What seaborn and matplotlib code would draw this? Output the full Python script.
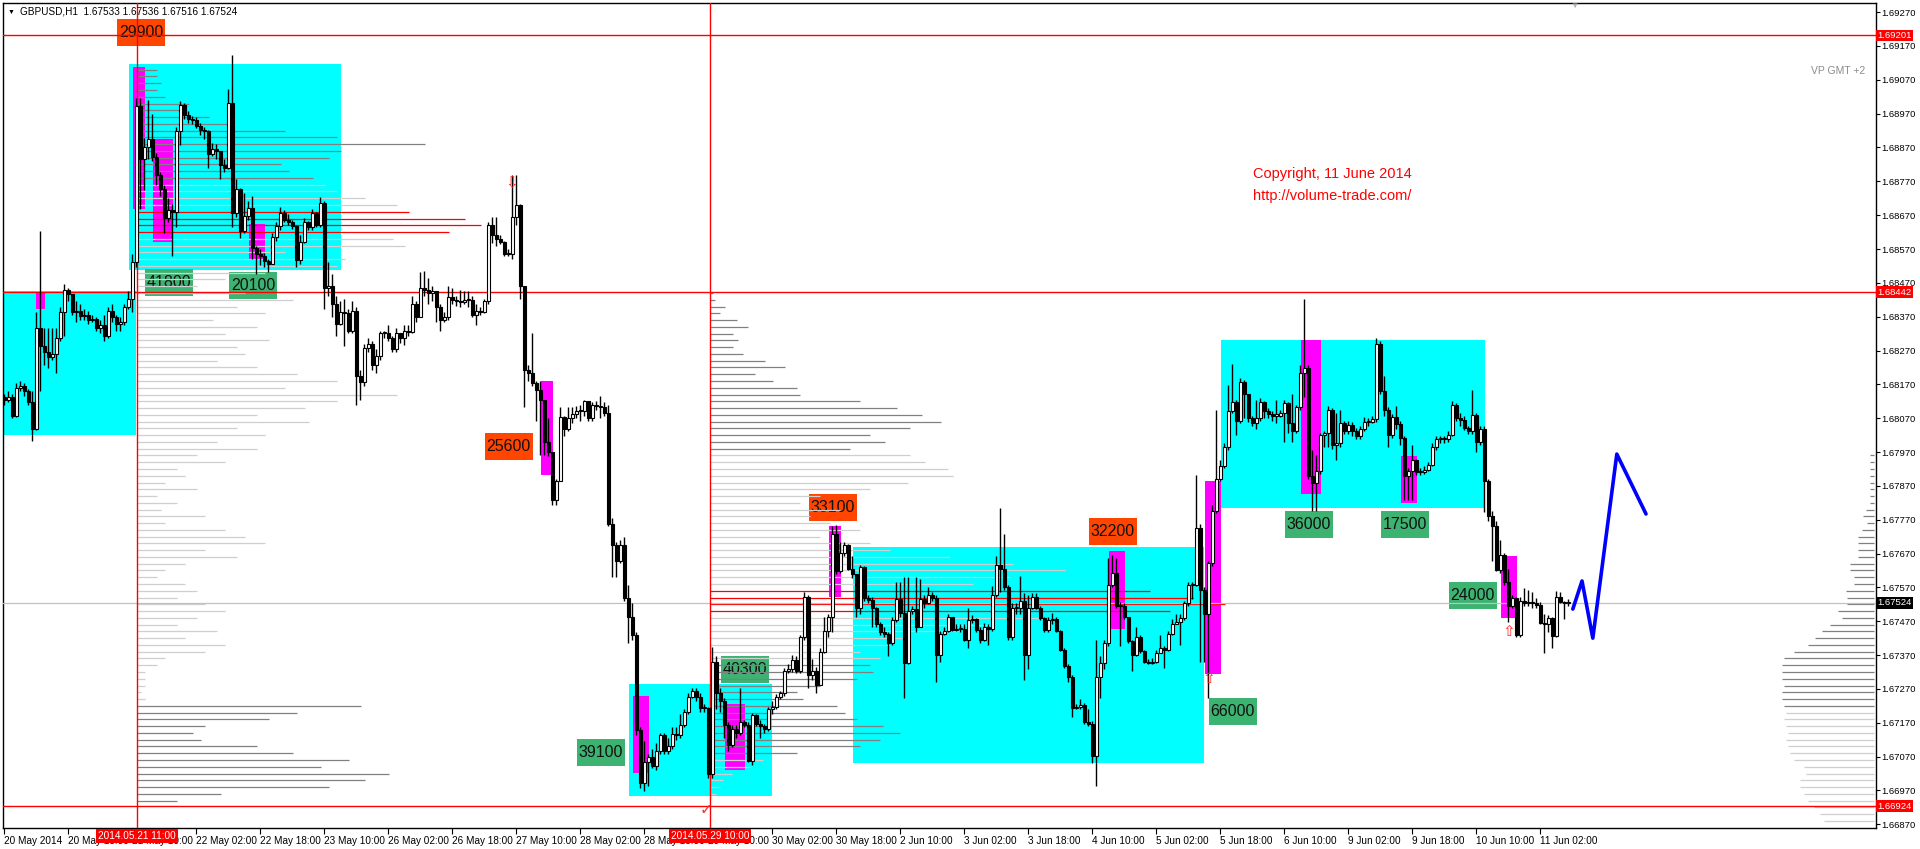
import numpy as np
import pandas as pd
import matplotlib
matplotlib.use("Agg")
import matplotlib.pyplot as plt
import matplotlib.transforms as mtransforms
from matplotlib.patches import Rectangle
from matplotlib.ticker import FormatStrFormatter
import seaborn as sns

# GBPUSD H1 candles, bar 0 = 20 May 2014 02:00 (weekend hours skipped)
first_open = 1.68133
closes = [
    1.68125, 1.68133, 1.68078, 1.68160, 1.68165, 1.68149, 1.68118, 1.68039, 1.68337, 1.68282,
    1.68267, 1.68251, 1.68259, 1.68306, 1.68384, 1.68449, 1.68438, 1.68384, 1.68387, 1.68371,
    1.68376, 1.68360, 1.68363, 1.68337, 1.68345, 1.68313, 1.68387, 1.68368, 1.68349, 1.68353,
    1.68399, 1.68423, 1.68533, 1.68993, 1.68837, 1.68871, 1.68896, 1.68842, 1.68790, 1.68746,
    1.68662, 1.68685, 1.68680, 1.68918, 1.68996, 1.68965, 1.68954, 1.68950, 1.68934, 1.68923,
    1.68918, 1.68850, 1.68865, 1.68861, 1.68818, 1.68809, 1.69001, 1.68676, 1.68746, 1.68623,
    1.68668, 1.68691, 1.68573, 1.68555, 1.68550, 1.68535, 1.68527, 1.68606, 1.68639, 1.68677,
    1.68657, 1.68649, 1.68637, 1.68537, 1.68591, 1.68649, 1.68634, 1.68676, 1.68641, 1.68707,
    1.68454, 1.68462, 1.68407, 1.68349, 1.68384, 1.68380, 1.68329, 1.68387, 1.68196, 1.68177,
    1.68277, 1.68290, 1.68227, 1.68254, 1.68321, 1.68321, 1.68306, 1.68274, 1.68321, 1.68306,
    1.68329, 1.68324, 1.68407, 1.68368, 1.68454, 1.68449, 1.68441, 1.68446, 1.68399, 1.68360,
    1.68368, 1.68427, 1.68418, 1.68415, 1.68412, 1.68418, 1.68418, 1.68376, 1.68387, 1.68384,
    1.68415, 1.68641, 1.68610, 1.68599, 1.68590, 1.68555, 1.68555, 1.68665, 1.68701, 1.68462,
    1.68211, 1.68204, 1.68173, 1.68152, 1.68125, 1.68000, 1.67969, 1.67828, 1.67883, 1.68075,
    1.68039, 1.68071, 1.68082, 1.68090, 1.68090, 1.68121, 1.68071, 1.68110, 1.68105, 1.68102,
    1.68086, 1.67758, 1.67695, 1.67648, 1.67695, 1.67539, 1.67484, 1.67430, 1.67148, 1.66992,
    1.67054, 1.67070, 1.67042, 1.67086, 1.67133, 1.67086, 1.67101, 1.67136, 1.67133, 1.67164,
    1.67203, 1.67245, 1.67265, 1.67245, 1.67214, 1.67214, 1.67020, 1.67351, 1.67258, 1.67234,
    1.67164, 1.67104, 1.67151, 1.67140, 1.67172, 1.67164, 1.67057, 1.67192, 1.67167, 1.67161,
    1.67151, 1.67211, 1.67218, 1.67245, 1.67258, 1.67323, 1.67328, 1.67354, 1.67323, 1.67422,
    1.67542, 1.67312, 1.67323, 1.67281, 1.67380, 1.67442, 1.67484, 1.67727, 1.67617, 1.67672,
    1.67695, 1.67625, 1.67609, 1.67508, 1.67630, 1.67539, 1.67534, 1.67508, 1.67461, 1.67437,
    1.67433, 1.67406, 1.67473, 1.67536, 1.67495, 1.67348, 1.67500, 1.67505, 1.67453, 1.67536,
    1.67523, 1.67547, 1.67539, 1.67370, 1.67433, 1.67442, 1.67484, 1.67445, 1.67448, 1.67448,
    1.67414, 1.67473, 1.67477, 1.67445, 1.67414, 1.67453, 1.67448, 1.67547, 1.67636, 1.67625,
    1.67570, 1.67422, 1.67508, 1.67508, 1.67531, 1.67370, 1.67508, 1.67542, 1.67508, 1.67480,
    1.67445, 1.67473, 1.67477, 1.67442, 1.67386, 1.67339, 1.67305, 1.67214, 1.67218, 1.67223,
    1.67172, 1.67167, 1.67073, 1.67305, 1.67348, 1.67406, 1.67578, 1.67614, 1.67516, 1.67516,
    1.67484, 1.67411, 1.67370, 1.67422, 1.67383, 1.67351, 1.67348, 1.67351, 1.67375, 1.67390,
    1.67386, 1.67433, 1.67461, 1.67469, 1.67480, 1.67523, 1.67578, 1.67578, 1.67745, 1.67563,
    1.67492, 1.67641, 1.67797, 1.67891, 1.67930, 1.67985, 1.68090, 1.68118, 1.68063, 1.68177,
    1.68141, 1.68071, 1.68055, 1.68071, 1.68118, 1.68090, 1.68083, 1.68078, 1.68078, 1.68086,
    1.68114, 1.68055, 1.68032, 1.68102, 1.68204, 1.68219, 1.67899, 1.67880, 1.67914, 1.68021,
    1.68027, 1.68094, 1.67992, 1.67996, 1.68055, 1.68032, 1.68050, 1.68032, 1.68017, 1.68039,
    1.68058, 1.68058, 1.68068, 1.68290, 1.68149, 1.68094, 1.68021, 1.68074, 1.68052, 1.68011,
    1.67899, 1.67914, 1.67946, 1.67910, 1.67910, 1.67917, 1.67933, 1.67985, 1.68008, 1.68008,
    1.68008, 1.68021, 1.68110, 1.68071, 1.68066, 1.68042, 1.68032, 1.68078, 1.68000, 1.68039,
    1.67883, 1.67781, 1.67750, 1.67620, 1.67667, 1.67586, 1.67516, 1.67539, 1.67430, 1.67531,
    1.67523, 1.67527, 1.67523, 1.67519, 1.67464, 1.67461, 1.67480, 1.67426, 1.67542, 1.67527,
    1.67523, 1.67524,
]
highs = [
    1.68141, 1.68149, 1.68141, 1.68173, 1.68181, 1.68173, 1.68157, 1.68149, 1.68384, 1.68623,
    1.68337, 1.68337, 1.68337, 1.68337, 1.68399, 1.68466, 1.68454, 1.68438, 1.68415, 1.68407,
    1.68392, 1.68387, 1.68376, 1.68368, 1.68360, 1.68376, 1.68399, 1.68407, 1.68376, 1.68368,
    1.68407, 1.68446, 1.68555, 1.69017, 1.69017, 1.68899, 1.69009, 1.68970, 1.68853, 1.68798,
    1.68759, 1.68720, 1.68704, 1.68931, 1.69006, 1.69001, 1.68978, 1.68962, 1.68959, 1.68943,
    1.68931, 1.68923, 1.68884, 1.68881, 1.68861, 1.68837, 1.69043, 1.69142, 1.68777, 1.68751,
    1.68735, 1.68712, 1.68727, 1.68579, 1.68571, 1.68558, 1.68540, 1.68618, 1.68649, 1.68693,
    1.68684, 1.68673, 1.68657, 1.68641, 1.68610, 1.68662, 1.68652, 1.68688, 1.68680, 1.68724,
    1.68712, 1.68533, 1.68495, 1.68430, 1.68415, 1.68423, 1.68392, 1.68415, 1.68399, 1.68211,
    1.68290, 1.68306, 1.68298, 1.68274, 1.68329, 1.68329, 1.68345, 1.68313, 1.68337, 1.68321,
    1.68345, 1.68345, 1.68430, 1.68415, 1.68501, 1.68505, 1.68485, 1.68462, 1.68446, 1.68407,
    1.68384, 1.68462, 1.68454, 1.68430, 1.68449, 1.68446, 1.68446, 1.68430, 1.68407, 1.68399,
    1.68423, 1.68649, 1.68665, 1.68665, 1.68610, 1.68594, 1.68571, 1.68790, 1.68790, 1.68704,
    1.68462, 1.68227, 1.68321, 1.68181, 1.68181, 1.68125, 1.68071, 1.67930, 1.67891, 1.68102,
    1.68078, 1.68102, 1.68102, 1.68105, 1.68110, 1.68125, 1.68121, 1.68118, 1.68121, 1.68137,
    1.68118, 1.68110, 1.67774, 1.67703, 1.67711, 1.67719, 1.67578, 1.67523, 1.67437, 1.67156,
    1.67117, 1.67078, 1.67093, 1.67109, 1.67140, 1.67140, 1.67125, 1.67156, 1.67156, 1.67195,
    1.67211, 1.67258, 1.67273, 1.67273, 1.67258, 1.67226, 1.67218, 1.67395, 1.67367, 1.67273,
    1.67242, 1.67172, 1.67164, 1.67164, 1.67273, 1.67179, 1.67172, 1.67198, 1.67195, 1.67179,
    1.67167, 1.67218, 1.67234, 1.67254, 1.67265, 1.67333, 1.67344, 1.67370, 1.67367, 1.67430,
    1.67555, 1.67547, 1.67359, 1.67336, 1.67390, 1.67484, 1.67492, 1.67750, 1.67755, 1.67703,
    1.67703, 1.67699, 1.67664, 1.67609, 1.67636, 1.67633, 1.67547, 1.67542, 1.67511, 1.67469,
    1.67453, 1.67437, 1.67484, 1.67586, 1.67586, 1.67602, 1.67602, 1.67516, 1.67602, 1.67594,
    1.67547, 1.67570, 1.67555, 1.67547, 1.67442, 1.67453, 1.67492, 1.67484, 1.67461, 1.67461,
    1.67461, 1.67508, 1.67489, 1.67480, 1.67453, 1.67464, 1.67461, 1.67573, 1.67664, 1.67805,
    1.67727, 1.67578, 1.67523, 1.67523, 1.67605, 1.67552, 1.67547, 1.67552, 1.67552, 1.67516,
    1.67484, 1.67484, 1.67495, 1.67484, 1.67445, 1.67390, 1.67344, 1.67312, 1.67226, 1.67239,
    1.67229, 1.67211, 1.67176, 1.67414, 1.67367, 1.67414, 1.67656, 1.67667, 1.67656, 1.67527,
    1.67523, 1.67453, 1.67414, 1.67453, 1.67430, 1.67386, 1.67359, 1.67362, 1.67386, 1.67430,
    1.67398, 1.67442, 1.67477, 1.67492, 1.67492, 1.67531, 1.67586, 1.67586, 1.67902, 1.67758,
    1.67570, 1.67648, 1.67813, 1.68094, 1.67946, 1.67996, 1.68168, 1.68230, 1.68125, 1.68188,
    1.68183, 1.68133, 1.68078, 1.68125, 1.68130, 1.68121, 1.68099, 1.68090, 1.68125, 1.68094,
    1.68125, 1.68118, 1.68141, 1.68110, 1.68227, 1.68423, 1.68227, 1.67977, 1.67961, 1.68027,
    1.68032, 1.68105, 1.68099, 1.68086, 1.68094, 1.68063, 1.68063, 1.68058, 1.68042, 1.68047,
    1.68074, 1.68071, 1.68078, 1.68306, 1.68298, 1.68196, 1.68102, 1.68083, 1.68105, 1.68063,
    1.68017, 1.67922, 1.67992, 1.67949, 1.67922, 1.67930, 1.67942, 1.67996, 1.68017, 1.68017,
    1.68017, 1.68032, 1.68121, 1.68114, 1.68086, 1.68078, 1.68047, 1.68152, 1.68086, 1.68047,
    1.68047, 1.67891, 1.67797, 1.67766, 1.67711, 1.67672, 1.67625, 1.67547, 1.67542, 1.67542,
    1.67567, 1.67563, 1.67555, 1.67539, 1.67527, 1.67492, 1.67489, 1.67484, 1.67558, 1.67555,
    1.67531, 1.67536,
]
lows = [
    1.68110, 1.68118, 1.68071, 1.68074, 1.68149, 1.68137, 1.68110, 1.68004, 1.68036, 1.68149,
    1.68227, 1.68219, 1.68243, 1.68204, 1.68298, 1.68313, 1.68415, 1.68376, 1.68353, 1.68360,
    1.68360, 1.68349, 1.68353, 1.68329, 1.68321, 1.68298, 1.68306, 1.68353, 1.68329, 1.68329,
    1.68345, 1.68392, 1.68384, 1.68516, 1.68688, 1.68743, 1.68837, 1.68829, 1.68759, 1.68727,
    1.68618, 1.68649, 1.68548, 1.68634, 1.68876, 1.68954, 1.68943, 1.68939, 1.68928, 1.68907,
    1.68896, 1.68809, 1.68845, 1.68837, 1.68777, 1.68798, 1.68806, 1.68634, 1.68665, 1.68602,
    1.68618, 1.68657, 1.68540, 1.68495, 1.68524, 1.68516, 1.68501, 1.68527, 1.68595, 1.68626,
    1.68649, 1.68641, 1.68630, 1.68516, 1.68527, 1.68587, 1.68626, 1.68626, 1.68634, 1.68634,
    1.68392, 1.68430, 1.68368, 1.68313, 1.68345, 1.68282, 1.68321, 1.68321, 1.68110, 1.68125,
    1.68165, 1.68267, 1.68211, 1.68204, 1.68243, 1.68306, 1.68298, 1.68267, 1.68267, 1.68293,
    1.68286, 1.68313, 1.68321, 1.68353, 1.68368, 1.68430, 1.68407, 1.68415, 1.68353, 1.68329,
    1.68353, 1.68360, 1.68407, 1.68402, 1.68399, 1.68407, 1.68399, 1.68368, 1.68345, 1.68376,
    1.68380, 1.68407, 1.68587, 1.68579, 1.68584, 1.68548, 1.68548, 1.68540, 1.68641, 1.68423,
    1.68102, 1.68181, 1.68165, 1.68063, 1.67961, 1.67961, 1.67958, 1.67813, 1.67813, 1.67883,
    1.68017, 1.68032, 1.68055, 1.68071, 1.68063, 1.68078, 1.68063, 1.68063, 1.68094, 1.68071,
    1.68078, 1.67750, 1.67602, 1.67602, 1.67641, 1.67531, 1.67406, 1.67414, 1.67133, 1.66976,
    1.66968, 1.66984, 1.67036, 1.67031, 1.67078, 1.67078, 1.67078, 1.67093, 1.67120, 1.67125,
    1.67156, 1.67195, 1.67242, 1.67234, 1.67203, 1.67203, 1.67007, 1.67007, 1.67211, 1.67203,
    1.67125, 1.67086, 1.67098, 1.67125, 1.67133, 1.67156, 1.67054, 1.67046, 1.67161, 1.67125,
    1.67140, 1.67145, 1.67195, 1.67211, 1.67239, 1.67250, 1.67317, 1.67320, 1.67317, 1.67317,
    1.67414, 1.67273, 1.67297, 1.67258, 1.67281, 1.67375, 1.67422, 1.67437, 1.67609, 1.67614,
    1.67664, 1.67620, 1.67598, 1.67484, 1.67492, 1.67531, 1.67523, 1.67453, 1.67453, 1.67430,
    1.67422, 1.67367, 1.67401, 1.67469, 1.67484, 1.67242, 1.67344, 1.67492, 1.67437, 1.67453,
    1.67508, 1.67520, 1.67531, 1.67289, 1.67351, 1.67430, 1.67437, 1.67442, 1.67442, 1.67437,
    1.67411, 1.67390, 1.67464, 1.67437, 1.67406, 1.67411, 1.67401, 1.67442, 1.67542, 1.67555,
    1.67563, 1.67414, 1.67414, 1.67492, 1.67492, 1.67297, 1.67328, 1.67505, 1.67505, 1.67473,
    1.67437, 1.67437, 1.67461, 1.67437, 1.67383, 1.67333, 1.67289, 1.67187, 1.67211, 1.67211,
    1.67167, 1.67161, 1.67050, 1.66984, 1.67242, 1.67328, 1.67398, 1.67570, 1.67508, 1.67398,
    1.67477, 1.67406, 1.67323, 1.67367, 1.67375, 1.67348, 1.67344, 1.67344, 1.67348, 1.67383,
    1.67333, 1.67383, 1.67430, 1.67461, 1.67401, 1.67473, 1.67516, 1.67536, 1.67573, 1.67351,
    1.67351, 1.67242, 1.67633, 1.67789, 1.67883, 1.67922, 1.67977, 1.68086, 1.68021, 1.68055,
    1.68071, 1.68058, 1.68047, 1.68039, 1.68063, 1.68071, 1.68071, 1.68063, 1.68055, 1.68074,
    1.68000, 1.68027, 1.68000, 1.68027, 1.68094, 1.68133, 1.67891, 1.67797, 1.67797, 1.67906,
    1.67985, 1.67985, 1.67980, 1.67946, 1.67985, 1.68024, 1.68024, 1.68017, 1.68008, 1.68008,
    1.68032, 1.68047, 1.68055, 1.68058, 1.68141, 1.68078, 1.67985, 1.68011, 1.68039, 1.67992,
    1.67828, 1.67828, 1.67828, 1.67902, 1.67902, 1.67906, 1.67914, 1.67930, 1.67977, 1.67996,
    1.67996, 1.68000, 1.68017, 1.68063, 1.68047, 1.68036, 1.68024, 1.68024, 1.67969, 1.67992,
    1.67792, 1.67766, 1.67648, 1.67617, 1.67614, 1.67578, 1.67469, 1.67508, 1.67422, 1.67422,
    1.67516, 1.67516, 1.67508, 1.67508, 1.67461, 1.67375, 1.67437, 1.67390, 1.67422, 1.67523,
    1.67477, 1.67516,
]

# time axis, one label every 16 bars
tick_labels = ["20 May 2014", "20 May 18:00", "21 May 10:00", "22 May 02:00", "22 May 18:00",
               "23 May 10:00", "26 May 02:00", "26 May 18:00", "27 May 10:00", "28 May 02:00",
               "28 May 18:00", "29 May 10:00", "30 May 02:00", "30 May 18:00", "2 Jun 10:00",
               "3 Jun 02:00", "3 Jun 18:00", "4 Jun 10:00", "5 Jun 02:00", "5 Jun 18:00",
               "6 Jun 10:00", "9 Jun 02:00", "9 Jun 18:00", "10 Jun 10:00", "11 Jun 02:00"]

red_levels = [1.69201, 1.68442, 1.66924]
last_price = 1.67524
vline_bars = [33.1, 176.4]
vline_tags = ["2014.05.21 11:00", "2014.05.29 10:00"]

# cyan trading ranges (bar from, bar to, price low, price high)
zone_x0 = [-0.4, 31.1, 156.1, 212.1, 304.1]
zone_x1 = [32.9, 84.1, 192.0, 299.9, 370.1]
zone_lo = [1.68021, 1.68507, 1.66953, 1.67051, 1.67805]
zone_hi = [1.68445, 1.69117, 1.67284, 1.67688, 1.68302]

# magenta high-volume bars
mag_x0 = [8.0, 32.1, 37.1, 61.1, 134.1, 157.1, 180.1, 206.1, 276.1, 300.1, 324.1, 349.1, 374.1]
mag_x1 = [10.1, 35.1, 42.1, 65.1, 137.1, 161.1, 185.1, 209.1, 280.1, 304.1, 329.1, 353.1, 378.1]
mag_lo = [1.68394, 1.68688, 1.68590, 1.68537, 1.67903, 1.67023, 1.67031, 1.67542, 1.67448,
          1.67315, 1.67847, 1.67820, 1.67481]
mag_hi = [1.68441, 1.69107, 1.68895, 1.68645, 1.68180, 1.67250, 1.67226, 1.67750, 1.67677,
          1.67883, 1.68301, 1.67958, 1.67664]

# volume tags
vol_text = ["29900", "41800", "20100", "25600", "39100", "40300", "33100", "32200",
            "66000", "36000", "17500", "24000"]
vol_bar = [34.1, 41.1, 62.1, 126.1, 149.1, 185.1, 207.1, 277.1, 307.1, 326.1, 350.1, 367.1]
vol_price = [1.69211, 1.68470, 1.68462, 1.67986, 1.67083, 1.67327, 1.67806, 1.67734,
             1.67204, 1.67756, 1.67756, 1.67545]
vol_side = ["sell", "buy", "buy", "sell", "buy", "buy", "sell", "sell",
            "buy", "buy", "buy", "buy"]

# volume profiles: length in bars for every 2 pips from the top level down
vp1_top = 1.6910
vp1_len = [5, 5, 6, 5, 7, 13, 12, 18, 24, 37,
           50, 72, 51, 48, 36, 38, 44, 47, 50, 57,
           65, 68, 82, 86, 78, 64, 67, 37, 52, 50,
           32, 22, 15, 27, 39, 25, 32, 19, 30, 22,
           33, 25, 27, 20, 30, 40, 50, 37, 65, 50,
           42, 30, 43, 25, 32, 20, 30, 15, 22, 10,
           12, 7, 15, 5, 10, 6, 17, 7, 22, 27,
           32, 17, 25, 12, 7, 5, 12, 15, 10, 17,
           22, 15, 10, 20, 12, 22, 17, 7, 5, 2,
           2, 2, 1, 2, 56, 40, 33, 17, 14, 16,
           30, 39, 53, 46, 63, 57, 48, 21, 10]
vp2_top = 1.6844
vp2_len = [0.8, 1.2, 3.8, 2.5, 6.8, 9.5, 5.8, 7.0, 5.8, 8.2,
           13.8, 18.8, 11.2, 15.8, 21.8, 22.5, 37.5, 46.8, 53.0, 57.8,
           50.0, 40.0, 43.8, 35.0, 50.0, 53.8, 59.5, 60.8, 49.5, 40.0,
           27.5, 22.5, 32.5, 25.0, 30.0, 37.5, 27.5, 40.0, 45.0, 60.0,
           75.8, 88.8, 75.0, 65.8, 110.0, 120.8, 128.8, 115.0, 82.5, 70.0,
           62.5, 50.0, 45.0, 37.5, 42.5, 40.0, 40.8, 36.8, 27.5, 21.8,
           23.2, 31.8, 33.8, 36.8, 43.2, 47.5, 42.5, 37.5, 21.8, 13.2,
           10.0, 5.5, 3.2, 2.5, 1.5]
vp3_top = 1.6796
vp3_len = [1.0, 1.0, 1.0, 1.0, 1.2, 1.2, 1.2, 1.2, 2.0, 2.8,
           1.8, 3.0, 4.0, 4.0, 4.0, 4.0, 6.0, 6.0, 5.0, 5.0,
           7.0, 6.8, 6.8, 9.0, 8.0, 11.0, 13.0, 14.8, 16.5, 20.0,
           22.5, 23.0, 23.0, 23.0, 22.5, 23.0, 23.0, 22.5, 22.0, 22.5,
           22.0, 21.5, 22.0, 21.5, 21.0, 20.0, 17.5, 17.0, 18.5, 18.5,
           17.5, 16.5, 15.0, 13.5, 12.5]

# hand drawn forecast
fc_bar = [392.1, 394.4, 397.1, 403.1, 410.4]
fc_price = [1.67506, 1.67589, 1.67420, 1.67964, 1.67787]

# signal arrows
arrow_bar = [126.8, 301.1, 376.1, 175.4]
arrow_price = [1.68765, 1.67300, 1.67438, 1.66911]
arrow_glyph = ["\u21e9", "\u21e7", "\u21e7", "\u2713"]

sns.set_theme(style="white")
plt.rcParams['font.family'] = ['Liberation Sans', 'DejaVu Sans']

n = min(len(closes), len(highs), len(lows))
bars = pd.DataFrame({"close": closes[:n], "high": highs[:n], "low": lows[:n]})
bars["open"] = [first_open] + closes[:n - 1]
bars["bar"] = np.arange(n)
bars["up"] = bars["close"] >= bars["open"]

fig = plt.figure(figsize=(19.2, 8.49), dpi=100)
fig.patch.set_facecolor("white")
ax = fig.add_axes([3 / 1920, 21 / 849, 1873 / 1920, 825 / 849])
ax.set_facecolor("white")
ax.set_xlim(-0.375, 467.9)
ax.set_ylim(1.66859, 1.69297)

for x0, x1, lo, hi in zip(zone_x0, zone_x1, zone_lo, zone_hi):
    ax.add_patch(Rectangle((x0, lo), x1 - x0, hi - lo, facecolor="#00ffff",
                           edgecolor="none", zorder=1))
for x0, x1, lo, hi in zip(mag_x0, mag_x1, mag_lo, mag_hi):
    ax.add_patch(Rectangle((x0, lo), x1 - x0, hi - lo, facecolor="#ff00ff",
                           edgecolor="none", zorder=2))

side_colors = {"sell": "#ff4500", "buy": "#3cb371"}
for t, b, p, s in zip(vol_text, vol_bar, vol_price, vol_side):
    ax.add_patch(Rectangle((b - 6, p - 0.0004), 12, 0.0008, facecolor=side_colors[s],
                           edgecolor="none", zorder=2.5))
    ax.text(b, p, t, ha="center", va="center", fontsize=11.5, color="#111111", zorder=2.6)

DARK, LIGHT, RED = "#808080", "#cfcfcf", "#ff0000"


def vp1_colour(p):
    if 1.68615 <= p <= 1.68685:
        return RED
    return DARK if (p >= 1.68775 or p <= 1.67225) else LIGHT


def vp2_colour(p):
    if 1.67495 <= p <= 1.67565:
        return RED
    return DARK if (p >= 1.67975 or 1.67065 <= p <= 1.67345) else LIGHT


def vp3_colour(p):
    return DARK if p >= 1.67215 else LIGHT


def draw_profile(top, lengths, start, colour_of, leftward=False):
    lengths = np.asarray(lengths, dtype=float)
    levels = np.round(top - 0.0002 * np.arange(len(lengths)), 4)
    cols = [colour_of(p) for p in levels]
    if leftward:
        ax.hlines(levels, start - lengths, start, colors=cols, lw=0.9, zorder=3)
    else:
        ax.hlines(levels, start, start + lengths, colors=cols, lw=0.9, zorder=3)


draw_profile(vp1_top, vp1_len, vline_bars[0], vp1_colour)
draw_profile(vp2_top, vp2_len, vline_bars[1], vp2_colour)
draw_profile(vp3_top, vp3_len, 467.5, vp3_colour, leftward=True)

for p in red_levels:
    ax.axhline(p, color="#ff0000", lw=1.0, zorder=4)
ax.axhline(last_price, color="#c0c0c0", lw=0.9, zorder=4)
for b in vline_bars:
    ax.axvline(b, color="#ff0000", lw=1.0, zorder=4)

# candles
ax.vlines(bars["bar"], bars["low"], bars["high"], color="black", lw=1.0, zorder=5)
body_lo = np.minimum(bars["open"], bars["close"])
body_h = np.maximum((bars["close"] - bars["open"]).abs(), 0.00003)
ax.bar(bars["bar"], body_h, bottom=body_lo, width=0.65,
       color=np.where(bars["up"], "white", "black"), edgecolor="black",
       linewidth=0.8, zorder=6)

sns.lineplot(x=fc_bar, y=fc_price, sort=False, color="#0000ff", linewidth=2.6,
             ax=ax, zorder=7)

for b, p, g in zip(arrow_bar, arrow_price, arrow_glyph):
    ax.text(b, p, g, ha="center", va="center", fontsize=11, color="#ff2a2a", zorder=7)

# axes cosmetics
ax.yaxis.tick_right()
ax.set_yticks(np.round(np.arange(1.66870, 1.69271, 0.001), 5))
ax.yaxis.set_major_formatter(FormatStrFormatter("%.5f"))
ax.tick_params(axis="y", direction="out", length=3, width=0.8, pad=1, labelsize=6.8,
               colors="black", right=True, left=False)
ax.set_xticks(np.arange(len(tick_labels)) * 16)
ax.set_xticklabels(tick_labels, ha="left")
ax.tick_params(axis="x", direction="out", length=4, width=0.8, pad=1.5, labelsize=7.2,
               colors="black", bottom=True)
ax.grid(False)
for s in ax.spines.values():
    s.set_color("black")
    s.set_linewidth(1.0)

ty = mtransforms.blended_transform_factory(ax.transAxes, ax.transData)
for p in red_levels:
    ax.text(1.0009, p, f"{p:.5f}", transform=ty, ha="left", va="center", fontsize=6.8,
            color="white", zorder=10, clip_on=False,
            bbox=dict(boxstyle="square,pad=0.15", fc="#ff0000", ec="none"))
ax.text(1.0009, last_price, f"{last_price:.5f}", transform=ty, ha="left", va="center",
        fontsize=6.8, color="white", zorder=10, clip_on=False,
        bbox=dict(boxstyle="square,pad=0.15", fc="black", ec="none"))

tx = mtransforms.blended_transform_factory(ax.transData, ax.transAxes)
for b, tag in zip(vline_bars, vline_tags):
    ax.text(b, -0.0035, tag, transform=tx, ha="center", va="top", fontsize=7.2,
            color="white", zorder=10, clip_on=False,
            bbox=dict(boxstyle="square,pad=0.2", fc="#ff0000", ec="none"))

fig.text(8 / 1920, 1 - 12 / 849, "\u25bc", fontsize=5, va="center", color="black")
fig.text(20 / 1920, 1 - 12 / 849, "GBPUSD,H1  1.67533 1.67536 1.67516 1.67524",
         fontsize=7.2, va="center", color="black")
fig.text(1574 / 1920, 1 - 6 / 849, "\u25bc", fontsize=6, ha="center", va="center",
         color="#b0b0b0")
fig.text(1811 / 1920, 1 - 71 / 849, "VP GMT +2", fontsize=7.5, va="center", color="#8c8c8c")
fig.text(1253 / 1920, 1 - 174 / 849, "Copyright, 11 June 2014", fontsize=10.5,
         va="center", color="#ff0000")
fig.text(1253 / 1920, 1 - 196 / 849, "http://volume-trade.com/", fontsize=10.5,
         va="center", color="#ff0000")

fig.savefig("out.png", dpi=100, facecolor="white")
